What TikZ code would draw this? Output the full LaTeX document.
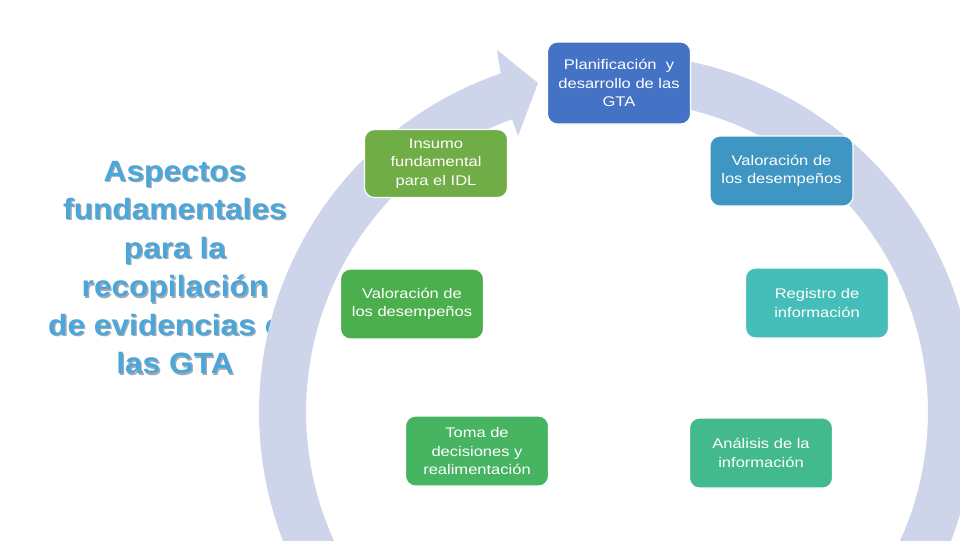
\documentclass[tikz,border=0pt]{standalone}
\usepackage{fontspec}
\setmainfont{Liberation Sans}
\newfontfamily\boxfont[FakeStretch=1.18]{Liberation Sans}
\newfontfamily\titlefont[FakeStretch=1.08]{Liberation Sans}
\definecolor{ringc}{HTML}{CED5EA}
\definecolor{titlec}{HTML}{4BA6DA}
\definecolor{shadowc}{HTML}{A3A9B3}
\definecolor{cplan}{HTML}{4472C4}
\definecolor{cvalr}{HTML}{3F96C2}
\definecolor{creg}{HTML}{45BDB8}
\definecolor{canal}{HTML}{43B98E}
\definecolor{ctoma}{HTML}{46B461}
\definecolor{cvall}{HTML}{4CAF4E}
\definecolor{cins}{HTML}{70AD47}
\begin{document}
\begin{tikzpicture}[x=0.75pt,y=-0.75pt,
  stage/.style={draw=white, line width=0.8pt, rounded corners=7.5pt,
    minimum width=107.25pt, minimum height=52.5pt, inner sep=0pt,
    align=center, text=white, font=\boxfont\fontsize{10.5}{13.7}\selectfont},
  titletext/.style={font=\titlefont\bfseries\fontsize{22}{28.9}\selectfont,
    align=center, inner sep=0pt}]
\useasboundingbox (0,0) rectangle (960,540);
\fill[white] (0,0) rectangle (960,540);
% title with shadow
\node[titletext, text=shadowc] (tshadow) at (176.3,268.8)
  {Aspectos\\fundamentales\\para la\\recopilación\\de evidencias en\\las GTA};
\node[titletext, text=titlec] (title) at (175,267.5)
  {Aspectos\\fundamentales\\para la\\recopilación\\de evidencias en\\las GTA};
% circular arrow
\begin{scope}
\clip (0,0) rectangle (960,540);
\fill[ringc]
  plot[domain=0:1, samples=240, variable=\t]
    ({617+358*cos(92-343.3*\t)}, {412-358*sin(92-343.3*\t)})
  -- (497,50) -- (538,83) -- (518,136)
  -- plot[domain=0:1, samples=240, variable=\t]
    ({617+311*cos(-250.3+342.3*\t)}, {412-311*sin(-250.3+342.3*\t)})
  -- cycle;
\end{scope}
% stages
\node[stage, fill=cplan, minimum height=61.5pt] (plan) at (619,83)
  {Planificación\ \ y\\desarrollo de las\\GTA};
\node[stage, fill=cvalr] (valr) at (781.5,171) {Valoración de\\los desempeños};
\node[stage, fill=creg] (reg) at (817,303) {Registro de\\información};
\node[stage, fill=canal] (anal) at (761,453) {Análisis de la\\información};
\node[stage, fill=ctoma] (toma) at (477,451) {Toma de\\decisiones y\\realimentación};
\node[stage, fill=cvall] (vall) at (412,304) {Valoración de\\los desempeños};
\node[stage, fill=cins, minimum height=51pt] (ins) at (436,163.5)
  {Insumo\\fundamental\\para el IDL};
\end{tikzpicture}
\end{document}
